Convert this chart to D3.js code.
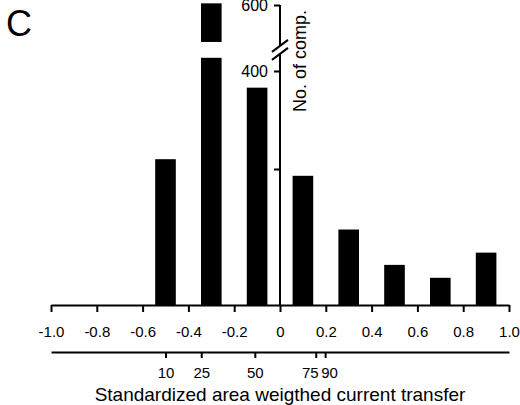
<!DOCTYPE html>
<html>
<head>
<meta charset="utf-8">
<script src="https://cdn.jsdelivr.net/npm/d3@7"></script>
<style>
	body { margin: 0; background: #fff; }
	svg { display: block; }
	text { font-family: "Liberation Sans", Arial, sans-serif; fill: #000; }
</style>
</head>
<body>
<script>
	// histogram data
	var binCenters = [-0.5, -0.3, -0.1, 0.1, 0.3, 0.5, 0.7, 0.9];
	var counts = [220, 605, 366, 190, 111, 59, 40, 77];
	var barWidth = 0.09;

	var xTickValues = [-1.0, -0.8, -0.6, -0.4, -0.2, 0, 0.2, 0.4, 0.6, 0.8, 1.0];
	var xTickLabels = ["-1.0", "-0.8", "-0.6", "-0.4", "-0.2", "0", "0.2", "0.4", "0.6", "0.8", "1.0"];

	var pctLabels = ["10", "25", "50", "75", "90"];
	var pctPositions = [-0.5, -0.344, -0.11, 0.156, 0.197];

	var yTickValues = [200, 400, 600];
	var yTickLabels = ["", "400", "600"];
	var yBreak = [440, 488];

	var width = 520, height = 405;

	var svg = d3.select("body").append("svg")
		.attr("width", width)
		.attr("height", height);

	var x = d3.scaleLinear().domain([-1, 1]).range([51, 509]);
	// the original axis is not evenly spaced, so use a piecewise scale
	var y = d3.scaleLinear().domain([0, 200, 400, 600]).range([305, 169, 71, 5]);

	// bars, split at the axis break when too tall
	var pieces = [];
	binCenters.forEach(function(c, i) {
		var v = counts[i];
		if (v > yBreak[0]) {
			pieces.push({c: c, lo: 0, hi: yBreak[0]});
			pieces.push({c: c, lo: yBreak[1], hi: v});
		} else {
			pieces.push({c: c, lo: 0, hi: v});
		}
	});

	svg.append("g").selectAll("rect")
		.data(pieces)
		.enter().append("rect")
			.attr("x", function(d) { return x(d.c - barWidth / 2); })
			.attr("width", function(d) { return x(d.c + barWidth / 2) - x(d.c - barWidth / 2); })
			.attr("y", function(d) { return y(d.hi); })
			.attr("height", function(d) { return y(d.lo) - y(d.hi); })
			.style("fill", "#000");

	// x axis
	var xAxis = svg.append("g")
		.attr("transform", "translate(0," + y(0) + ")")
		.call(d3.axisBottom(x)
			.tickValues(xTickValues)
			.tickFormat(function(d, i) { return xTickLabels[i]; })
			.tickSize(7)
			.tickSizeOuter(0)
			.tickPadding(14));
	xAxis.select(".domain").style("stroke-width", 2);
	xAxis.selectAll(".tick line").style("stroke-width", 2);
	xAxis.selectAll("text").style("font-size", "15px").style("font-family", "Liberation Sans, Arial");

	// percentile axis
	var pAxis = svg.append("g")
		.attr("transform", "translate(0,352)")
		.call(d3.axisBottom(x)
			.tickValues(pctPositions)
			.tickFormat(function(d, i) { return pctLabels[i]; })
			.tickSize(6)
			.tickSizeOuter(0)
			.tickPadding(9));
	pAxis.select(".domain").style("stroke-width", 2);
	pAxis.selectAll(".tick line").style("stroke-width", 2);
	pAxis.selectAll("text")
		.style("font-size", "15px")
		.style("font-family", "Liberation Sans, Arial")
		.attr("dx", function(d, i) { return i === 3 ? -6 : (i === 4 ? 4 : 0); });

	// y axis with break
	var yAxis = svg.append("g")
		.attr("transform", "translate(" + x(0) + ",0)")
		.call(d3.axisLeft(y)
			.tickValues(yTickValues)
			.tickFormat(function(d, i) { return yTickLabels[i]; })
			.tickSize(6)
			.tickSizeOuter(0)
			.tickPadding(6));
	yAxis.select(".domain").remove();
	yAxis.selectAll(".tick line").style("stroke-width", 2);
	yAxis.selectAll("text").style("font-size", "16px").style("font-family", "Liberation Sans, Arial");

	var slashLo = y(yBreak[0] + 12), slashHi = y(yBreak[1] - 12);
	yAxis.append("path")
		.attr("d", "M0," + y(0) + "V" + slashLo)
		.style("stroke", "#000").style("stroke-width", 2);
	yAxis.append("path")
		.attr("d", "M0," + slashHi + "V" + y(600))
		.style("stroke", "#000").style("stroke-width", 2);
	[slashLo, slashHi].forEach(function(cy) {
		yAxis.append("line")
			.attr("x1", -8).attr("y1", cy + 6)
			.attr("x2", 8).attr("y2", cy - 6)
			.style("stroke", "#000").style("stroke-width", 2);
	});

	svg.append("text")
		.attr("transform", "translate(306,112) rotate(-90)")
		.attr("text-anchor", "start")
		.style("font-size", "18px")
		.text("No. of comp.");

	svg.append("text")
		.attr("x", x(0))
		.attr("y", 401)
		.attr("text-anchor", "middle")
		.style("font-size", "19px")
		.text("Standardized area weigthed current transfer");

	svg.append("text")
		.attr("x", 6)
		.attr("y", 36)
		.style("font-size", "36px")
		.text("C");
</script>
</body>
</html>
